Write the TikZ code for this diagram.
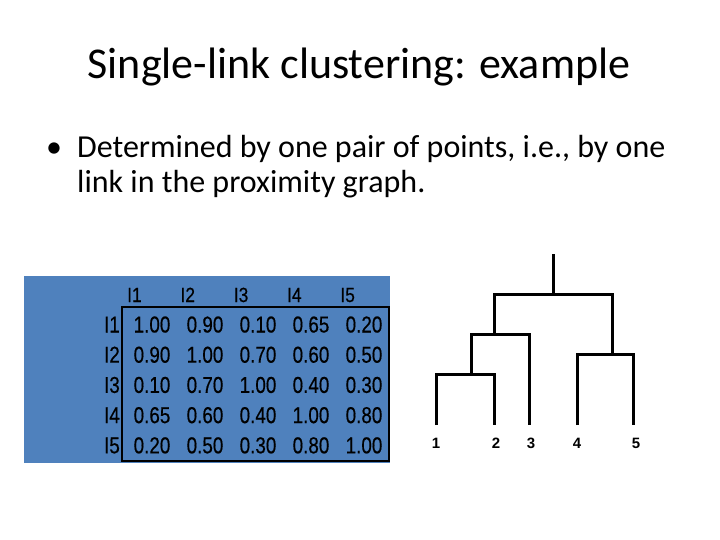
\documentclass[tikz,border=0pt]{standalone}
\usepackage{fontspec}
\setmainfont{Carlito}
\newfontfamily\arialfont{Liberation Sans}
\newfontfamily\cellfont[FakeStretch=0.82,FakeBold=0.4]{Liberation Sans}
\newfontfamily\headfont[FakeStretch=0.85,FakeBold=0.4]{Liberation Sans}
\usepackage{tikz}
\definecolor{tableblue}{HTML}{4F81BD}

\begin{document}
\begin{tikzpicture}[
    x=1pt, y=-1pt,
    title/.style={font=\fontsize{44}{53}\selectfont, anchor=base, inner sep=0},
    bullettext/.style={font=\fontsize{32}{38}\selectfont, anchor=base west, inner sep=0},
    cell/.style={font=\cellfont\fontsize{23}{27}\selectfont, inner sep=0},
    head/.style={font=\headfont\fontsize{20.5}{24}\selectfont, inner sep=0},
    leaf/.style={font=\arialfont\bfseries\fontsize{15}{18}\selectfont, inner sep=0},
    link/.style={line width=3pt}
]

\useasboundingbox (0,0) rectangle (720,540);

% Title
\node[title] (title) at (359,79) {Single-link clustering: example};

% Bullet point
\node[bullettext] (dot) at (46,158) {\textbullet};
\node[bullettext] (line1) at (77,158) {Determined by one pair of points, i.e., by one};
\node[bullettext] (line2) at (77,193) {link in the proximity graph.};

% Proximity matrix
\fill[tableblue] (24,276) rectangle (390,463);
\draw[line width=1.5pt] (122,307) rectangle (389,461);

\foreach \i in {1,...,5} {
    \node[head, anchor=base west] (h\i) at ({127+53.3*(\i-1)},302) {I\i};
    \node[cell, anchor=base east] (r\i) at (120,{332.5+30.2*(\i-1)}) {I\i};
}

\foreach \row [count=\i] in {{1.00,0.90,0.10,0.65,0.20},
                             {0.90,1.00,0.70,0.60,0.50},
                             {0.10,0.70,1.00,0.40,0.30},
                             {0.65,0.60,0.40,1.00,0.80},
                             {0.20,0.50,0.30,0.80,1.00}} {
    \foreach \v [count=\j] in \row {
        \node[cell, anchor=base] (c\i\j) at ({152+53*(\j-1)},{332.5+30.2*(\i-1)}) {\v};
    }
}

% Dendrogram
\coordinate (l1) at (436,425);
\coordinate (l2) at (494,425);
\coordinate (l3) at (529,425);
\coordinate (l4) at (577,425);
\coordinate (l5) at (633,425);
\coordinate (m12) at (471,374);
\coordinate (m123) at (494,334);
\coordinate (m45) at (612,354);
\coordinate (root) at (553,294);
\coordinate (top) at (553,254);

\draw[link] (l1) |- (m12) -| (l2);
\draw[link] (m12) |- (m123) -| (l3);
\draw[link] (l4) |- (m45) -| (l5);
\draw[link] (m123) |- (root) -| (m45);
\draw[link] (root) -- (top);

% Leaf labels
\node[leaf] (n1) at (436,443) {1};
\node[leaf] (n2) at (496,443) {2};
\node[leaf] (n3) at (531,443) {3};
\node[leaf] (n4) at (577,443) {4};
\node[leaf] (n5) at (636,443) {5};

\end{tikzpicture}
\end{document}
